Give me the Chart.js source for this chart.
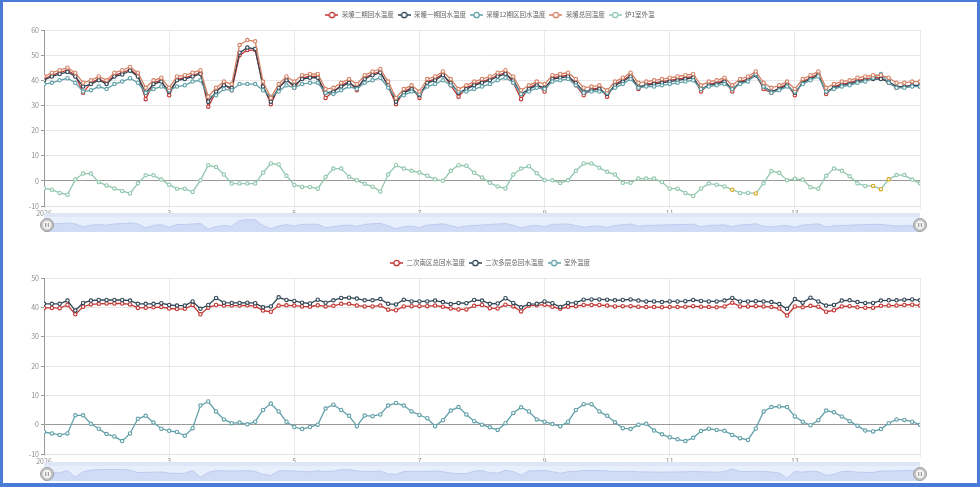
<!DOCTYPE html>
<html lang="zh-CN">
<head>
<meta charset="utf-8">
<title>回水温度</title>
<script src="https://cdn.jsdelivr.net/npm/chart.js@4.4.1/dist/chart.umd.min.js"></script>
<style>
  html, body { margin: 0; padding: 0; background: #fff; }
  #page { position: relative; width: 980px; height: 487px; overflow: hidden; }
  #frame { position: absolute; left: 0; top: 0; width: 980px; height: 487px; box-sizing: border-box;
           border: solid #4a7bd6; border-width: 2px 3px 4px 3px; pointer-events: none; z-index: 5; }
  canvas { position: absolute; }
  #topChart { left: 0; top: 0; }
  #topSlider { left: 36px; top: 213px; }
  #bottomChart { left: 0; top: 248px; }
  #bottomSlider { left: 36px; top: 462px; }
</style>
</head>
<body>
<div id="page">
  <canvas id="topChart" width="980" height="218"></canvas>
  <canvas id="topSlider" width="896" height="24"></canvas>
  <canvas id="bottomChart" width="980" height="218"></canvas>
  <canvas id="bottomSlider" width="896" height="24"></canvas>
  <div id="frame"></div>
</div>
<script>
// 时间轴: 1日0点起, 每3小时一个点 (每行 = 一天)
const startDay = 1;
const stepHours = 3;
const xTickDays = [1, 3, 5, 7, 9, 11, 13, 15];
const xTickText = ['2026', '3', '5', '7', '9', '11', '13', ''];

// 上图: 采暖回水
const topNames = ['采暖二期回水温度', '采暖一期回水温度', '采暖12期区回水温度', '采暖总回温度', '炉1室外温'];

const erqiHui = [
  40.5, 42, 43, 44, 42, 35, 39, 40.5,
  39, 42, 43, 44.3, 42, 32.5, 39, 40,
  34, 40.5, 41, 42, 43, 29.5, 35.5, 38.5,
  36, 50, 52, 52, 38, 30.5, 37, 40.5,
  37, 41, 41.5, 41.5, 33, 35.5, 38, 39.5,
  36, 41, 42.5, 43.5, 37.5, 30.5, 35.5, 37,
  33, 39.5, 40.5, 42.5, 38, 33.5, 37, 38.5,
  39.5, 40.5, 42, 43, 39, 32.5, 37, 38.5,
  35.5, 41, 41.5, 42, 38, 34, 36.5, 37,
  33.5, 38.5, 40, 42, 36.5, 38.5, 39, 39.5,
  40, 40.5, 41, 41.5, 35.5, 38.5, 39, 40,
  35.5, 39.5, 40.5, 42.5, 36.5, 35, 37, 38.5,
  34, 39.5, 41, 42.5, 34.5, 37.5, 38.5, 39,
  40, 40.5, 41, 41, 39, 37, 37.5, 38,
  37.5
];

const yiqiHui = [
  40, 41.5, 42.5, 43.3, 41.5, 37.5, 38.5, 40,
  38.5, 41.5, 42.3, 43.8, 41.5, 35, 38.5, 39.5,
  35.5, 40, 40.5, 41.5, 42.5, 31.5, 35.5, 38,
  37, 51, 53, 52.5, 37.5, 31.5, 37, 40,
  38, 40.5, 41, 41, 35, 35.5, 37.5, 39,
  37, 40.5, 42, 43, 38, 31.5, 35, 36.5,
  34, 39, 40, 42, 39, 35, 36.5, 38,
  39, 40, 41.5, 42.5, 40, 34.5, 36.5, 38,
  37, 40.5, 41, 41.5, 39, 35.5, 36, 36.5,
  34.5, 38, 39.5, 41.5, 37.5, 38, 38.5, 39,
  39.5, 40, 40.5, 41, 36.5, 38, 38.5, 39.5,
  36.5, 39, 40, 42, 37.5, 35.5, 36.5, 38,
  35, 39, 40.5, 42, 35.5, 37, 38, 38.5,
  39.5, 40, 40.5, 40.5, 39.5, 37.5, 37.5, 38,
  38
];

const qu12Hui = [
  38.5, 39, 40, 40.8, 39, 35.5, 36, 37.5,
  36.5, 38.5, 39.5, 40.8, 39, 35, 36.5, 37.5,
  36, 37.5, 38, 39.5, 40, 33.5, 34, 36.5,
  36, 38.5, 38.5, 38.5, 36, 33.5, 35.5, 38,
  37, 38.5, 39, 39, 35, 34.5, 36, 37.5,
  36.5, 39, 40, 41, 37, 33, 34, 35.5,
  34.5, 37.5, 38.5, 40, 38, 35.5, 35.5, 36.5,
  37.5, 38.5, 40, 41, 39, 34.5, 35.5, 37,
  36.5, 39.5, 40, 40.5, 38, 35, 35.5, 35.5,
  35, 37, 38.5, 40.5, 37, 37.5, 37.5, 38,
  38.5, 39, 39.5, 40, 36.5, 37.5, 38, 38.5,
  36.5, 38.5, 39.5, 42.5, 37.5, 35, 36, 37.5,
  35.5, 38.5, 40, 41.5, 35.5, 36.5, 37.5, 38,
  39, 39.5, 41, 42.5, 39, 37, 37, 37.5,
  37.5
];

const zongHui = [
  41.5, 43, 44, 45, 43, 39, 40, 41.5,
  40, 43, 44, 45.3, 43, 37, 40, 41,
  37, 41.5, 42, 43, 44, 33.5, 37, 39.5,
  38.5, 54, 56, 55.5, 39.5, 33, 38.5, 41.5,
  39.5, 42, 42.5, 42.5, 36.5, 37, 39, 40.5,
  38.5, 42, 43.5, 44.5, 39.5, 33, 36.5, 38,
  35.5, 40.5, 41.5, 43.5, 40.5, 36.5, 38, 39.5,
  40.5, 41.5, 43, 44, 41.5, 36, 38, 39.5,
  38.5, 42, 42.5, 43, 40.5, 37, 37.5, 38,
  36, 39.5, 41, 43, 39, 39.5, 40, 40.5,
  41, 41.5, 42, 42.5, 38, 39.5, 40, 41,
  38, 40.5, 41.5, 43.5, 39, 37, 38, 39.5,
  36.5, 40.5, 42, 43.5, 37, 38.5, 39.5, 40,
  41, 41.5, 42, 42, 41, 39, 39, 39.5,
  39.5
];

const lu1Outdoor = [
  -3, -3.5, -4.8, -5.5, 0.5, 2.9, 2.9, -0.5,
  -1.8, -3, -4, -5, -1, 2.2, 2.2, 0.5,
  -1.5, -3.1, -3.1, -4.4, 0.2, 6.2, 5.5, 2.5,
  -1.1, -1.1, -1.1, -1.1, 3.2, 6.9, 6.5, 2,
  -1.6, -2.4, -2.4, -3.1, 1.5, 4.9, 4.9, 1.6,
  0.2, -1.2, -2.3, -4.2, 2.5, 6.2, 4.9, 4,
  3.3, 2, 0.6, 0, 4, 6.2, 6, 3.2,
  1.3, -0.8, -2.2, -3, 2.5, 4.9, 5.8, 3,
  0.2, 0.2, -0.9, 0.2, 4, 6.9, 6.9, 5.2,
  3.6, 2.5, -0.8, -0.8, 0.9, 0.9, 0.9, -0.5,
  -3.1, -3.1, -4.8, -6, -3, -1.1, -1.5, -2.2,
  -3.5, -4.8, -4.8, -5, -1, 3.9, 3.2, 0.2,
  0.8, 0.5, -2.5, -3.1, 2, 4.9, 4, 1.8,
  -1, -2, -2, -3.3, 0.6, 2.3, 2.3, 0.5,
  -1
];
// 炉1室外温中被标记(黄色)的点
const lu1Flagged = [88, 91, 106, 107, 108];

// 下图: 二次回水
const bottomNames = ['二次南区总回水温度', '二次多层总回水温度', '室外温度'];

const nanquHui = [
  39.8, 39.8, 39.7, 40.8, 37.6, 40.2, 41, 41.2,
  41.3, 41.3, 41.3, 41, 39.8, 39.9, 40, 40.1,
  39.6, 39.4, 39.5, 40.8, 37.6, 39.9, 40.8, 40.6,
  40.6, 40.6, 40.7, 40.4, 38.9, 38.5, 40.6, 40.7,
  40.6, 40.3, 40.2, 40.7, 40.3, 40.5, 41.2, 41.2,
  40.6, 40.3, 40.3, 40.6, 39.2, 39, 40.3, 40.4,
  40.4, 40.4, 40.6, 40.2, 39.6, 39.3, 39.3, 40.5,
  40.8, 39.7, 39.6, 40.9, 40.3, 38.6, 40.6, 40.7,
  40.9, 40.2, 39.5, 40.2, 40.4, 40.8, 40.8, 40.8,
  40.6, 40.3, 40.4, 40.4, 40.2, 40.1, 40.1, 40,
  40.1, 40.1, 40.2, 40.4, 40.2, 40.1, 40, 40.3,
  41.6, 40.3, 40.3, 40.4, 40.3, 40.1, 39.6, 37.2,
  40.3, 40, 40.5, 40.2, 38.5, 39, 40.3, 40.4,
  40, 39.9, 39.9, 40.5, 40.6, 40.6, 40.8, 40.9,
  40.6
];

const duocengHui = [
  41.2, 41.2, 41.2, 42.3, 38.9, 41.5, 42.3, 42.5,
  42.5, 42.5, 42.5, 42.3, 41.2, 41.2, 41.2, 41.4,
  40.8, 40.6, 40.6, 42, 39.5, 40.8, 43.2, 41.6,
  41.5, 41.5, 41.6, 41.4, 40, 40.3, 43.4, 42.5,
  42.2, 41.6, 41.3, 42.6, 41.6, 42.4, 43.2, 43.3,
  43, 42.4, 42.4, 42.8, 41.2, 41, 42.6, 42,
  42, 42, 42.3, 41.8, 41.1, 41.5, 41.4, 42.5,
  42.3, 41.2, 41.3, 43.1, 41.5, 40, 41.1, 41.2,
  42, 41.4, 40.1, 41.5, 41.6, 42.6, 42.7, 42.7,
  42.6, 42.4, 42.5, 42.7, 42.3, 42, 42, 41.8,
  42, 42, 42.1, 42.5, 42.2, 42, 42, 42.3,
  43.2, 42, 42, 42.1, 42, 41.8, 41.1, 39.5,
  42.8, 41.6, 43.3, 42, 40.6, 40.8, 42.3, 42.4,
  41.8, 41.5, 41.5, 42.3, 42.4, 42.4, 42.6, 42.7,
  42.4
];

const outdoorTemp = [
  -2.5, -3, -3.5, -3, 3.2, 3.2, 0.3, -1.4,
  -3.2, -4, -5.6, -3, 2, 3, 0.7, -1.4,
  -2.1, -2.5, -3.8, -1.2, 6.5, 7.9, 4.5, 1.8,
  0.5, 0.7, 0.1, 1, 5, 7.2, 4.5, 1,
  -0.8, -1.5, -0.8, 0, 5.5, 6.8, 5, 3,
  -0.5, 3.1, 2.9, 3.5, 6.5, 7.4, 6.5, 4.5,
  3.3, 2.2, -0.5, 1.5, 4.8, 6, 3.5, 1.2,
  0, -0.9, -1.8, 0.5, 4, 5.9, 4.5, 1.8,
  1, 0.2, -0.5, 1, 5, 7, 7, 4.5,
  3, 0.8, -1.2, -1.5, 0, 0.3, -2, -3.3,
  -4.3, -5, -5.6, -4.5, -2.2, -1.4, -1.8, -2.1,
  -3.5, -4.6, -5.2, -1.3, 4.5, 6, 6.2, 6,
  2.8, 1, -0.2, 1.5, 4.8, 4.2, 2.8, 1.2,
  -0.4, -2, -2.3, -1.5, 0.5, 1.8, 1.6, 1,
  0
];

const palette = ['#c23531', '#2f4554', '#61a0a8', '#d48265', '#91c7ae'];
const flagColor = '#d9a514';

Chart.defaults.font.family = '"Noto Sans CJK SC", "Noto Sans", sans-serif';
Chart.defaults.color = '#8c8c8c';

const toPoints = arr => arr.map((v, i) => ({ x: startDay + i * stepHours / 24, y: v }));

function lineSet(label, values, color, idx) {
  return {
    label: label,
    data: toPoints(values),
    borderColor: color,
    backgroundColor: '#fff',
    borderWidth: 1.3,
    pointRadius: 1.7,
    pointBorderWidth: 1.1,
    pointBackgroundColor: '#fff',
    pointBorderColor: color,
    tension: 0,
    order: -idx
  };
}

// 图例图标: 线 + 空心圆
function legendIcon(color) {
  const c = document.createElement('canvas');
  c.width = 13; c.height = 8;
  const g = c.getContext('2d');
  g.strokeStyle = color;
  g.lineWidth = 1.5;
  g.beginPath(); g.moveTo(0, 4); g.lineTo(13, 4); g.stroke();
  g.beginPath(); g.arc(6.5, 4, 2.7, 0, Math.PI * 2);
  g.fillStyle = '#fff'; g.fill();
  g.lineWidth = 1.3; g.stroke();
  return c;
}

const legendLabels = chart => chart.data.datasets.map((ds, i) => ({
  text: ds.label,
  pointStyle: legendIcon(ds.borderColor),
  fillStyle: '#fff',
  strokeStyle: ds.borderColor,
  lineWidth: 0,
  hidden: false,
  datasetIndex: i,
  fontColor: '#666'
}));

// 固定图例高度, 并让图例在整张画布居中
const legendBox = {
  id: 'legendBox',
  beforeUpdate(chart) {
    const lg = chart.legend;
    if (lg && !lg._patched) {
      const fit = lg.fit;
      lg.fit = function () { fit.call(this); this.height = 22.25; };
      lg._patched = true;
    }
  },
  afterUpdate(chart) {
    const lg = chart.legend;
    lg.left = 0;
    lg.right = chart.width;
    lg.width = chart.width;
    lg.adjustHitBoxes();
  }
};

function mainOptions(yMin, yMax) {
  return {
    responsive: false,
    animation: false,
    events: [],
    layout: { padding: { top: 7.75, left: 0, right: 60, bottom: 0 } },
    plugins: {
      legend: {
        position: 'top',
        labels: {
          usePointStyle: true,
          pointStyleWidth: 13,
          padding: 4,
          font: { size: 6.5 },
          color: '#666',
          generateLabels: legendLabels
        }
      },
      tooltip: { enabled: false }
    },
    scales: {
      x: {
        type: 'linear',
        min: xTickDays[0],
        max: xTickDays[xTickDays.length - 1],
        afterFit: s => { s.height = 12; },
        afterBuildTicks: s => { s.ticks = xTickDays.map(v => ({ value: v })); },
        ticks: {
          autoSkip: false,
          maxRotation: 0,
          padding: 0,
          font: { size: 7 },
          callback: v => xTickText[xTickDays.indexOf(v)]
        },
        grid: { color: '#e8e8e8', tickLength: 3 },
        border: { color: '#e2e2e2' }
      },
      y: {
        min: yMin,
        max: yMax,
        afterFit: s => { s.width = 44; },
        ticks: { stepSize: 10, padding: 2, font: { size: 7 } },
        grid: {
          color: c => (c.tick && c.tick.value === 0 ? '#9a9a9a' : '#e8e8e8'),
          tickColor: '#9a9a9a',
          tickLength: 3
        },
        border: { color: '#9a9a9a' }
      }
    }
  };
}

// 上图
const topSeries = [erqiHui, yiqiHui, qu12Hui, zongHui, lu1Outdoor];
const topSets = topSeries.map((vals, i) => lineSet(topNames[i], vals, palette[i], i));
topSets[4].pointBorderColor = ctx => (lu1Flagged.includes(ctx.dataIndex) ? flagColor : palette[4]);

new Chart(document.getElementById('topChart'), {
  type: 'line',
  data: { datasets: topSets },
  options: mainOptions(-10, 60),
  plugins: [legendBox]
});

// 下图
const bottomColors = [palette[0], palette[1], palette[2]];
const bottomSeries = [nanquHui, duocengHui, outdoorTemp];
new Chart(document.getElementById('bottomChart'), {
  type: 'line',
  data: { datasets: bottomSeries.map((vals, i) => lineSet(bottomNames[i], vals, bottomColors[i], i)) },
  options: mainOptions(-10, 50),
  plugins: [legendBox]
});

// 缩放条 (数据背景取第一条序列)
const sliderDecor = {
  id: 'sliderDecor',
  beforeDraw(chart) {
    const { ctx, chartArea: a } = chart;
    ctx.save();
    ctx.fillStyle = '#dfe6f5';
    ctx.fillRect(a.left, a.top - 4, a.right - a.left, 4);
    ctx.fillStyle = '#e7eefc';
    ctx.fillRect(a.left, a.top, a.right - a.left, a.bottom - a.top);
    ctx.restore();
  },
  afterDraw(chart) {
    const { ctx, chartArea: a } = chart;
    const cy = (a.top + a.bottom) / 2 + 0.5;
    [a.left + 3, a.right].forEach(cx => {
      ctx.save();
      ctx.beginPath(); ctx.arc(cx, cy, 6.5, 0, Math.PI * 2);
      ctx.fillStyle = '#c4c4c4'; ctx.fill();
      ctx.lineWidth = 1; ctx.strokeStyle = '#9d9d9d'; ctx.stroke();
      ctx.beginPath(); ctx.arc(cx, cy, 4.2, 0, Math.PI * 2);
      ctx.fillStyle = '#f4f4f4'; ctx.fill();
      ctx.strokeStyle = '#8a8a8a'; ctx.lineWidth = 1;
      ctx.beginPath(); ctx.moveTo(cx - 1.3, cy - 2); ctx.lineTo(cx - 1.3, cy + 2);
      ctx.moveTo(cx + 1.3, cy - 2); ctx.lineTo(cx + 1.3, cy + 2); ctx.stroke();
      ctx.restore();
    });
  }
};

function sliderChart(id, values) {
  const lo = Math.min(...values);
  const hi = Math.max(...values);
  const pad = (hi - lo) * 0.3;
  new Chart(document.getElementById(id), {
    type: 'line',
    data: {
      labels: values.map((_, i) => i),
      datasets: [{
        data: values,
        fill: 'start',
        backgroundColor: '#d0dbf6',
        borderColor: '#bccbef',
        borderWidth: 1,
        pointRadius: 0,
        tension: 0
      }]
    },
    options: {
      responsive: false,
      animation: false,
      events: [],
      layout: { padding: { left: 8, right: 12, top: 4, bottom: 5 } },
      plugins: { legend: { display: false }, tooltip: { enabled: false } },
      scales: {
        x: { display: false, offset: false },
        y: { display: false, min: lo - pad, max: hi + pad }
      }
    },
    plugins: [sliderDecor]
  });
}

sliderChart('topSlider', erqiHui);
sliderChart('bottomSlider', nanquHui);
</script>
</body>
</html>
